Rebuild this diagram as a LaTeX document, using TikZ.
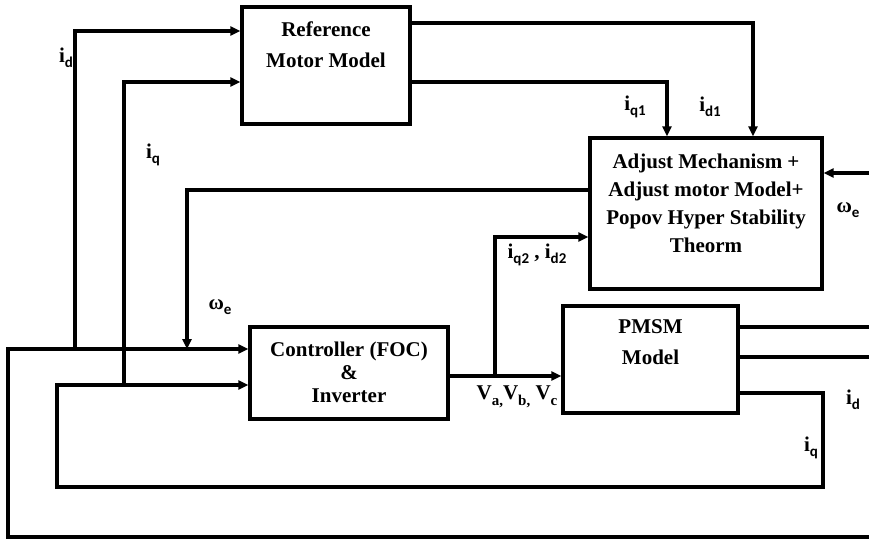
\documentclass[tikz,border=0pt]{standalone}
\usepackage{fontspec}
\setmainfont{Liberation Serif}
\newfontfamily\subfont{Carlito}
\usetikzlibrary{arrows.meta}
\newcommand{\lbl}[2]{\textbf{#1}\raisebox{-5.5pt}{\fontsize{15}{15}\selectfont\subfont\bfseries #2}}
\newcommand{\vsub}[1]{\raisebox{-5.5pt}{\fontsize{15}{15}\selectfont\bfseries #1}}
\begin{document}
\begin{tikzpicture}[x=1pt,y=-1pt, line width=3.2pt,
  box/.style={draw, line width=3.2pt, inner sep=0pt, rectangle},
  arr/.style={-{Triangle[length=10pt,width=9pt]}},
  txt/.style={align=center, inner sep=0pt},
  lab/.style={font=\fontsize{21}{21}\selectfont\bfseries, inner sep=0pt}]
\useasboundingbox (0,0) rectangle (869,541);

% boxes
\node[box, minimum width=168pt, minimum height=117pt] (ref) at (326,65.5) {};
\node[box, minimum width=232pt, minimum height=151pt] (adj) at (706,213.5) {};
\node[box, minimum width=198pt, minimum height=92pt] (ctrl) at (349,373) {};
\node[box, minimum width=175pt, minimum height=107pt] (pmsm) at (650.5,359.5) {};

% box texts
\node[txt, font=\fontsize{21}{31}\selectfont\bfseries] (refT) at (326,45) {Reference\\Motor Model};
\node[txt, font=\fontsize{21}{28}\selectfont\bfseries] (adjT) at (706,203) {Adjust Mechanism +\\Adjust motor Model+\\Popov Hyper Stability\\Theorm};
\node[txt, font=\fontsize{21}{23}\selectfont\bfseries] (ctrlT) at (349,372) {Controller (FOC)\\\&\\Inverter};
\node[txt, font=\fontsize{21}{31}\selectfont\bfseries] (pmsmT) at (650.5,342.5) {PMSM\\Model};

% free ends and junctions
\coordinate (eBot) at (869,537);
\coordinate (eW) at (869,173);
\coordinate (eO1) at (869,327);
\coordinate (eO2) at (869,357);
\coordinate (J1) at (75,349);
\coordinate (J2) at (124,385);
\coordinate (J3) at (187,349);
\coordinate (J4) at (495,376);

% outer loop (i_d)
\draw[arr] (eBot) -- (8,537) -- (8,349) -- (ctrl.west |- J1);
\draw[arr] (J1) -- (J1 |- 0,31) -- (ref.west |- 0,31);

% inner loop (i_q)
\draw[arr] (pmsm.east |- 0,393) -- (823,393) -- (823,487) -- (57,487) -- (57,385) -- (ctrl.west |- J2);
\draw[arr] (J2) -- (J2 |- 0,82) -- (ref.west |- 0,82);

% omega_e feedback to controller
\draw[arr] (adj.west |- 0,190) -- (J3 |- 0,190) -- (J3);

% reference model outputs
\draw[arr] (ref.east |- 0,23) -- (753,23) -- (adj.north -| 753,0);
\draw[arr] (ref.east |- 0,82) -- (667,82) -- (adj.north -| 667,0);

% controller to PMSM
\draw[arr] (ctrl.east |- J4) -- (pmsm.west |- J4);
\draw[arr] (J4) -- (J4 |- 0,237) -- (adj.west |- 0,237);

% right side
\draw[arr] (eW) -- (adj.east |- eW);
\draw (pmsm.east |- eO1) -- (eO1);
\draw (pmsm.east |- eO2) -- (eO2);

% labels
\node[lab] (Lid) at (66,58) {\lbl{i}{d}};
\node[lab] (Liq) at (153,155) {\lbl{i}{q}};
\node[lab] (Liq1) at (635,107) {\lbl{i}{q1}};
\node[lab] (Lid1) at (710,107) {\lbl{i}{d1}};
\node[lab] (Lw1) at (220,307) {\lbl{ω}{e}};
\node[lab] (Lw2) at (848,210) {\lbl{ω}{e}};
\node[lab] (Liq2) at (537,255) {\lbl{i}{q2} , \lbl{i}{d2}};
\node[lab] (LV) at (517,397) {V\vsub{a,}V\vsub{b,} V\vsub{c}};
\node[lab] (Lid3) at (853,400) {\lbl{i}{d}};
\node[lab] (Liq3) at (811,448) {\lbl{i}{q}};
\end{tikzpicture}
\end{document}
